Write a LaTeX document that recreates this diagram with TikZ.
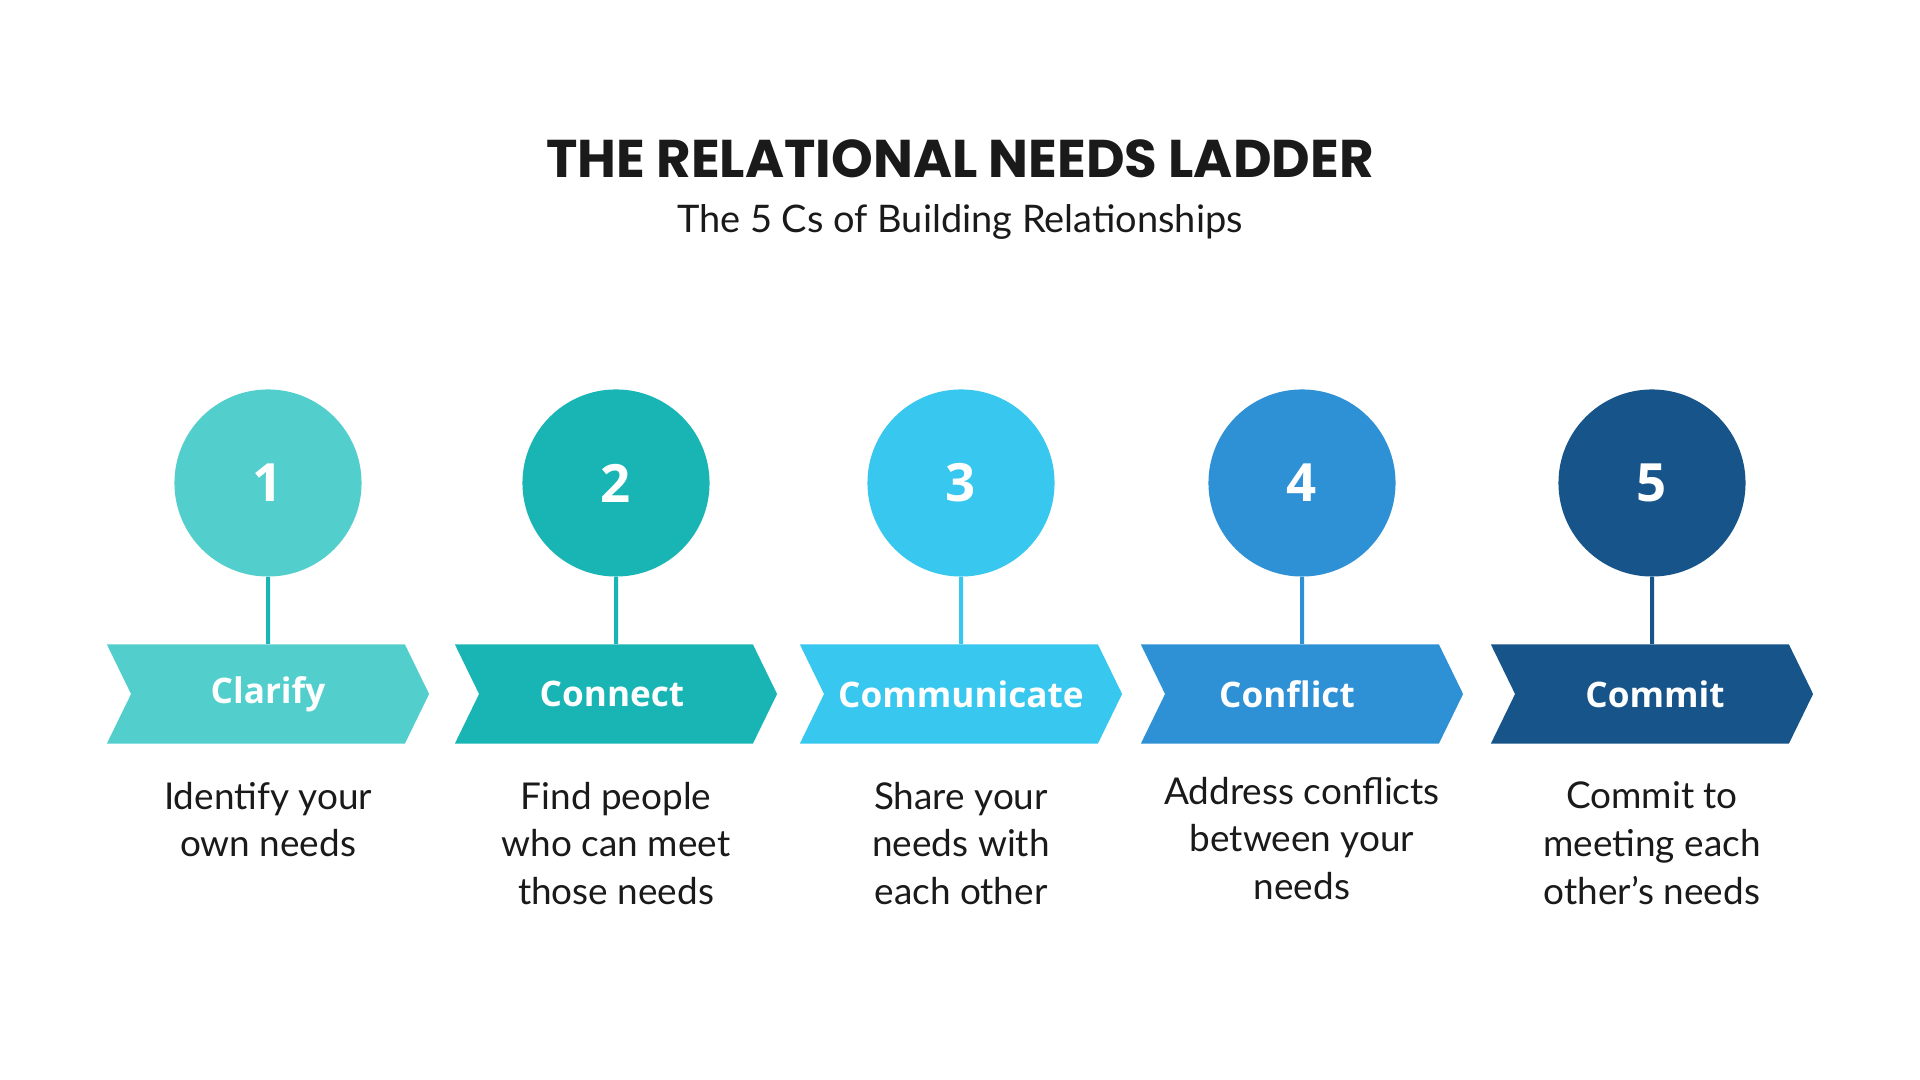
\documentclass[tikz,border=0pt]{standalone}
\usepackage{fontspec}
\setmainfont{Lato}
\newfontfamily\titlefont{Poppins}
\newfontfamily\labelfont{Open Sans}
\usepackage{tikz}
\usetikzlibrary{positioning, shapes.symbols}
\usepackage{xcolor}

\definecolor{stepA}{HTML}{52CECC}
\definecolor{stepB}{HTML}{19B5B4}
\definecolor{stepC}{HTML}{38C7EF}
\definecolor{stepD}{HTML}{2E91D6}
\definecolor{stepE}{HTML}{16548A}
\definecolor{stemA}{HTML}{1CB5B5}
\definecolor{inkdark}{HTML}{1A1A1A}

\begin{document}
\begin{tikzpicture}[
  x=0.01cm, y=-0.01cm,
  node distance=0.665cm,
  bubble/.style={
    circle, fill=#1, minimum size=1.87cm, inner sep=0pt,
    text=white, font=\labelfont\bfseries\fontsize{15}{18}\selectfont
  },
  chevron/.style={
    signal, signal from=west, signal to=east, signal pointer angle=128,
    fill=#1, minimum width=3.22cm, minimum height=0.99cm, inner sep=0pt,
    text=white, font=\labelfont\bfseries\fontsize{10}{12}\selectfont
  },
  stem/.style={draw=#1, line width=0.04cm},
  desc/.style={
    anchor=north, align=center, inner sep=0pt, text=inkdark,
    font=\fontsize{10.5}{13.6}\selectfont
  }
]
  \useasboundingbox[fill=white] (0,0) rectangle (1920,1080);

  % heading
  \node[text=inkdark, font=\titlefont\bfseries\fontsize{15.1}{17}\selectfont]
    (title) at (960,159) {THE RELATIONAL NEEDS LADDER};
  \node[text=inkdark, font=\fontsize{10.8}{13}\selectfont]
    (subtitle) at (960,222) {The 5 Cs of Building Relationships};

  % numbered circles
  \node[bubble=stepA] (numA) at (268,483)  {1};
  \node[bubble=stepB] (numB) at (616,483)  {2};
  \node[bubble=stepC] (numC) at (961,483)  {3};
  \node[bubble=stepD] (numD) at (1302,483) {4};
  \node[bubble=stepE] (numE) at (1652,483) {5};

  % chevrons
  \node[chevron=stepA] (cA) [below=of numA] {Clarify};
  \node[chevron=stepB] (cB) [below=of numB] {\hspace*{-0.08cm}Connect};
  \node[chevron=stepC] (cC) [below=of numC] {Communicate};
  \node[chevron=stepD] (cD) [below=of numD] {\hspace*{-0.3cm}Conflict};
  \node[chevron=stepE] (cE) [below=of numE] {Commit\hspace*{-0.06cm}};

  % stems
  \draw[stem=stemA] (numA) -- (cA);
  \draw[stem=stepB] (numB) -- (cB);
  \draw[stem=stepC] (numC) -- (cC);
  \draw[stem=stepD] (numD) -- (cD);
  \draw[stem=stepE] (numE) -- (cE);

  % descriptions
  \node[desc] (dA) [below=0.37cm of cA] {Identify your\\own needs};
  \node[desc] (dB) [below=0.37cm of cB] {Find people\\who can meet\\those needs};
  \node[desc] (dC) [below=0.37cm of cC] {Share your\\needs with\\each other};
  \node[desc] (dD) [below=0.32cm of cD] {Address conflicts\\between your\\needs};
  \node[desc] (dE) [below=0.37cm of cE] {Commit to\\meeting each\\other’s needs};
\end{tikzpicture}
\end{document}
